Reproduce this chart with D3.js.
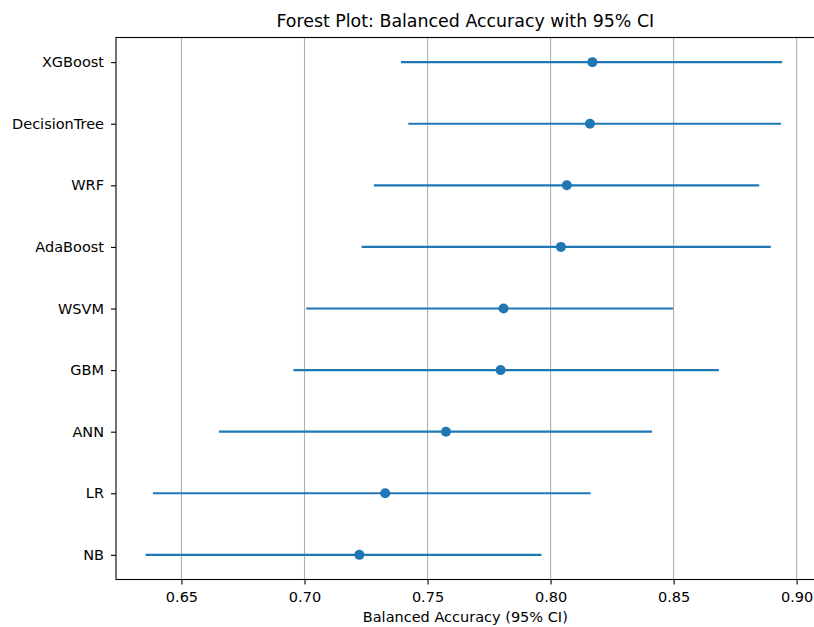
<!DOCTYPE html>
<html>
<head>
<meta charset="utf-8">
<script src="https://cdn.jsdelivr.net/npm/d3@7"></script>
<style>
  body { margin: 0; background: #fff; }
  svg { display: block; font-family: "DejaVu Sans", sans-serif; }
</style>
</head>
<body>
<div id="chart"></div>
<script>
// Models listed bottom to top, as plotted
const models = ["NB", "LR", "ANN", "GBM", "WSVM", "AdaBoost", "WRF", "DecisionTree", "XGBoost"];
const accuracy = [0.7223, 0.7328, 0.7575, 0.7797, 0.7809, 0.8042, 0.8066, 0.8160, 0.8170];
const ciLower = [0.6354, 0.6384, 0.6652, 0.6955, 0.7007, 0.7232, 0.7282, 0.7422, 0.7392];
const ciUpper = [0.7963, 0.8163, 0.8412, 0.8684, 0.8498, 0.8895, 0.8848, 0.8937, 0.8941];
const xTicks = [0.65, 0.70, 0.75, 0.80, 0.85, 0.90];

const rows = models.map((m, i) => ({
  model: m, i: i, acc: accuracy[i], lo: ciLower[i], hi: ciUpper[i]
}));

const W = 814, H = 627;
const plotLeft = 116, plotTop = 37.5, plotBottom = 579.5;

const svg = d3.select("#chart").append("svg")
  .attr("width", W)
  .attr("height", H);

// x limits as in the source plot (right spine falls just past the frame)
const x = d3.scaleLinear()
  .domain([0.6234, 0.9073])
  .range([plotLeft, 814.6]);
const plotRight = x.range()[1];

const y = d3.scaleLinear()
  .domain([-0.4, models.length - 1 + 0.4])
  .range([plotBottom, plotTop]);

// vertical grid
svg.append("g")
  .selectAll("line")
  .data(xTicks)
  .join("line")
    .attr("x1", d => x(d)).attr("x2", d => x(d))
    .attr("y1", plotTop).attr("y2", plotBottom)
    .attr("stroke", "#b0b0b0")
    .attr("stroke-width", 1.1);

// confidence intervals
svg.append("g")
  .selectAll("line")
  .data(rows)
  .join("line")
    .attr("x1", d => x(d.lo)).attr("x2", d => x(d.hi))
    .attr("y1", d => y(d.i)).attr("y2", d => y(d.i))
    .attr("stroke", "#1f77b4")
    .attr("stroke-width", 2.2);

// point estimates
svg.append("g")
  .selectAll("circle")
  .data(rows)
  .join("circle")
    .attr("cx", d => x(d.acc))
    .attr("cy", d => y(d.i))
    .attr("r", 5)
    .attr("fill", "#1f77b4");

// x axis
const xAxisG = svg.append("g")
  .attr("transform", `translate(0,${plotBottom})`)
  .call(d3.axisBottom(x).tickValues(xTicks).tickFormat(d3.format(".2f"))
    .tickSize(5).tickPadding(7).tickSizeOuter(0));
xAxisG.select(".domain").remove();
xAxisG.selectAll("line").attr("stroke", "#000").attr("stroke-width", 1.1);
xAxisG.selectAll("text")
  .attr("fill", "#000")
  .attr("font-size", "14.5px")
  .attr("font-family", "DejaVu Sans");

// y axis
const yAxisG = svg.append("g")
  .attr("transform", `translate(${plotLeft},0)`)
  .call(d3.axisLeft(y).tickValues(d3.range(models.length)).tickFormat(i => models[i])
    .tickSize(5).tickPadding(7).tickSizeOuter(0));
yAxisG.select(".domain").remove();
yAxisG.selectAll("line").attr("stroke", "#000").attr("stroke-width", 1.1);
yAxisG.selectAll("text")
  .attr("fill", "#000")
  .attr("font-size", "14.5px")
  .attr("font-family", "DejaVu Sans");

// spines
svg.append("rect")
  .attr("x", plotLeft).attr("y", plotTop)
  .attr("width", plotRight - plotLeft).attr("height", plotBottom - plotTop)
  .attr("fill", "none")
  .attr("stroke", "#000")
  .attr("stroke-width", 1.1);

// title and axis label
svg.append("text")
  .attr("x", (plotLeft + plotRight) / 2)
  .attr("y", 27)
  .attr("text-anchor", "middle")
  .attr("font-size", "17.4px")
  .attr("fill", "#000")
  .text("Forest Plot: Balanced Accuracy with 95% CI");

svg.append("text")
  .attr("x", (plotLeft + plotRight) / 2)
  .attr("y", 622)
  .attr("text-anchor", "middle")
  .attr("font-size", "14.5px")
  .attr("fill", "#000")
  .text("Balanced Accuracy (95% CI)");
</script>
</body>
</html>
